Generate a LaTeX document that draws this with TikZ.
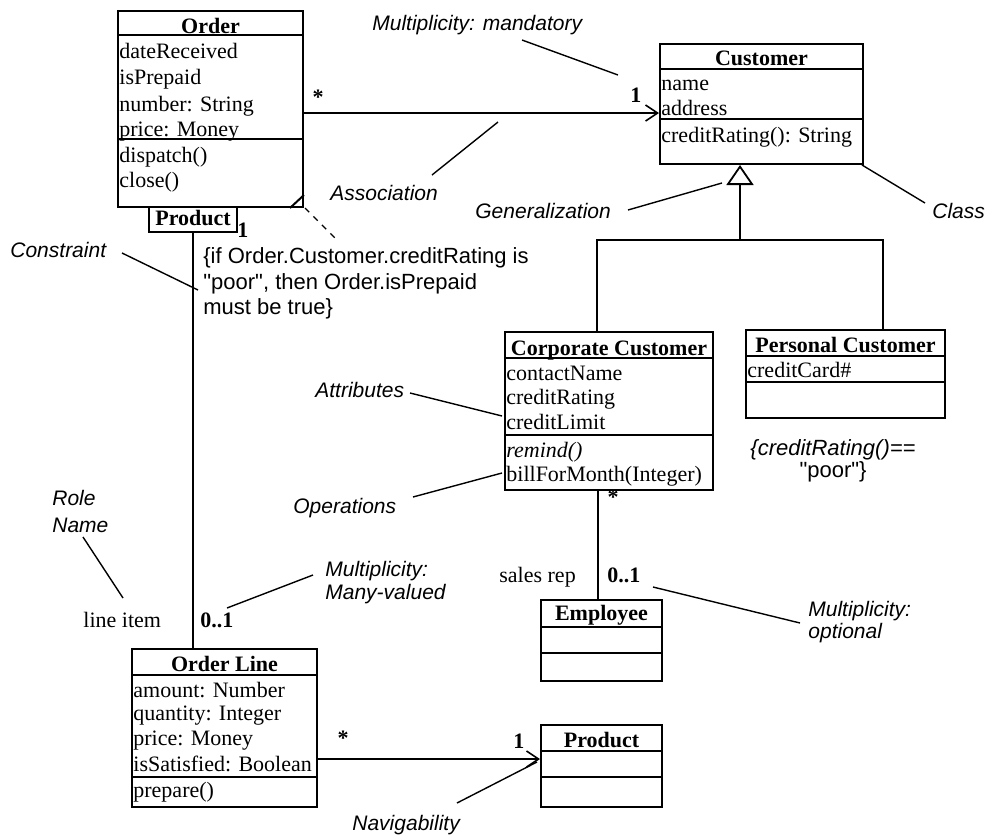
\documentclass[tikz,border=0pt]{standalone}
\usepackage{fontspec}
\setmainfont{Liberation Serif}
\setsansfont{Liberation Sans}
\usetikzlibrary{arrows.meta}

\begin{document}
\begin{tikzpicture}[x = 0.5pt, y = -0.5pt,
  classbox/.style = {draw, line width = 1pt, anchor = north west, inner sep = 0pt},
  sep/.style = {line width = 1pt},
  title/.style = {anchor = base, inner sep = 0pt, font = \fontsize{11}{13}\selectfont\bfseries},
  member/.style = {anchor = base west, inner sep = 0pt, font = \fontsize{11}{13}\selectfont},
  mult/.style = {anchor = base west, inner sep = 0pt, font = \fontsize{11}{13}\selectfont\bfseries},
  role/.style = {anchor = base west, inner sep = 0pt, font = \fontsize{11}{13}\selectfont},
  constr/.style = {anchor = base west, inner sep = 0pt, font = \sffamily\fontsize{11}{13}\selectfont},
  note/.style = {anchor = base west, inner sep = 0pt, font = \sffamily\itshape\fontsize{10.5}{12}\selectfont},
  lead/.style = {line width = 0.7pt},
  assoc/.style = {line width = 0.8pt, -{Straight Barb[length = 6pt, width = 8pt]}},
  gen/.style = {line width = 0.9pt, -{Triangle[open, length = 10pt, width = 13.5pt]}}]
\useasboundingbox (0,0) rectangle (992,836);

% class boxes
\node[classbox, minimum width = 92.5pt, minimum height = 98pt] (order) at (117,10) {};
\node[classbox, minimum width = 44pt, minimum height = 12.5pt] (qual) at (148,206) {};
\node[classbox, minimum width = 101.5pt, minimum height = 60pt] (customer) at (659,43) {};
\node[classbox, minimum width = 104pt, minimum height = 79pt] (corporate) at (504,331) {};
\node[classbox, minimum width = 99.5pt, minimum height = 44pt] (personal) at (745,329) {};
\node[classbox, minimum width = 60.5pt, minimum height = 40.5pt] (employee) at (540,599) {};
\node[classbox, minimum width = 60.5pt, minimum height = 41pt] (product) at (540,724) {};
\node[classbox, minimum width = 92.5pt, minimum height = 79pt] (orderline) at (131,648) {};

\foreach \cls/\y in {order/35, order/139, customer/69, customer/119, corporate/358, corporate/435,
    personal/356, personal/382, employee/627, employee/653, product/751, product/777,
    orderline/675, orderline/777}
  \draw[sep] (\cls.west |- 0,\y) -- (\cls.east |- 0,\y);
\draw[sep] ([xshift = -7pt]order.south east) -- ([yshift = 6.5pt]order.south east);

\node[title] (ordert) at (order.north |- 0,33) {Order};
\node[title] (qualt) at (qual.north |- 0,225) {Product};
\node[title] (customert) at (customer.north |- 0,65) {Customer};
\node[title] (corporatet) at (corporate.north |- 0,355) {Corporate Customer};
\node[title] (personalt) at (personal.north |- 0,352) {Personal Customer};
\node[title] (employeet) at (employee.north |- 0,620) {Employee};
\node[title] (productt) at (product.north |- 0,747) {Product};
\node[title] (orderlinet) at (orderline.north |- 0,671) {Order Line};

\node[member] (o1) at (119,58) {dateReceived};
\node[member] (o2) at (119,84) {isPrepaid};
\node[member] (o3) at (119,111) {number: String};
\node[member] (o4) at (119,136) {price: Money};
\node[member] (o5) at (119,162) {dispatch()};
\node[member] (o6) at (119,187) {close()};
\node[member] (c1) at (661,90) {name};
\node[member] (c2) at (661,115) {address};
\node[member] (c3) at (661,142) {creditRating(): String};
\node[member] (cc1) at (506,380) {contactName};
\node[member] (cc2) at (506,404) {creditRating};
\node[member] (cc3) at (506,429) {creditLimit};
\node[member] (cc4) at (506,457) {\textit{remind()}};
\node[member] (cc5) at (506,481) {billForMonth(Integer)};
\node[member] (pc1) at (747,377) {creditCard\#};
\node[member] (ol1) at (133,697) {amount: Number};
\node[member] (ol2) at (133,720) {quantity: Integer};
\node[member] (ol3) at (133,745) {price: Money};
\node[member] (ol4) at (133,771) {isSatisfied: Boolean};
\node[member] (ol5) at (133,797) {prepare()};

% associations
\draw[assoc] (order.east |- 0,113) -- (customer.west |- 0,113);
\draw[assoc] (orderline.east |- 0,759) -- (product.west |- 0,759);
\draw[sep] (qual.south) -- (orderline.north -| qual.south);
\draw[sep] (corporate.south -| 598,0) -- (employee.north -| 598,0);
\coordinate (genjoin) at (740,240);
\draw[gen] (genjoin) -- (customer.south -| genjoin);
\draw[sep] (corporate.north -| 597,0) |- (genjoin) -| (personal.north -| 883,0);

\node[mult, anchor = center] (m1) at (318,97) {*};
\node[mult] (m2) at (630,102) {1};
\node[mult] (m3) at (237,237) {1};
\node[mult, anchor = center] (m4) at (613,497) {*};
\node[mult] (m5) at (607,582) {0..1};
\node[mult] (m6) at (200,627) {0..1};
\node[mult, anchor = center] (m7) at (343,738) {*};
\node[mult] (m8) at (513,748) {1};
\node[role] (salesrep) at (499,582) {sales rep};
\node[role] (lineitem) at (83,627) {line item};

% constraints
\node[constr] (cons1) at (203,263) {\{if Order.Customer.creditRating is};
\node[constr] (cons2) at (203,289) {\textquotedbl poor\textquotedbl, then Order.isPrepaid};
\node[constr] (cons3) at (203,314) {must be true\}};
\node[constr, anchor = base] (poor1) at (833,455) {\textit{\{creditRating()==}};
\node[constr, anchor = base] (poor2) at (833,477) {\textquotedbl poor\textquotedbl\}};
\coordinate (dash1) at (305,208);
\coordinate (dash2) at (335,238);
\draw[lead, dash pattern = on 3pt off 3pt] (dash1) -- (dash2);

% annotations
\node[note] (nmand) at (372,30) {Multiplicity: mandatory};
\node[note] (nassoc) at (330,200) {Association};
\node[note] (ngen) at (475,218) {Generalization};
\node[note] (nclass) at (932,218) {Class};
\node[note] (ncons) at (10,257) {Constraint};
\node[note] (nattr) at (315,397) {Attributes};
\node[note] (nops) at (293,513) {Operations};
\node[note] (nrole) at (52,505) {Role};
\node[note] (nname) at (52,532) {Name};
\node[note] (nmany1) at (325,576) {Multiplicity:};
\node[note] (nmany2) at (325,599) {Many-valued};
\node[note] (nopt1) at (808,616) {Multiplicity:};
\node[note] (nopt2) at (808,638) {optional};
\node[note] (nnav) at (352,830) {Navigability};

\coordinate (lmand) at (522,40);   \coordinate (tmand) at (618,75);
\coordinate (lassoc) at (432,175); \coordinate (tassoc) at (498,122);
\coordinate (lgen) at (628,210);   \coordinate (tgen) at (722,183);
\coordinate (lclass) at (925,203); \coordinate (tclass) at (862,165);
\coordinate (lcons) at (122,253);  \coordinate (tcons) at (198,290);
\coordinate (lattr) at (410,393);  \coordinate (tattr) at (502,416);
\coordinate (lops) at (413,497);   \coordinate (tops) at (502,473);
\coordinate (lrole) at (83,537);   \coordinate (trole) at (123,598);
\coordinate (lmany) at (313,575);  \coordinate (tmany) at (227,608);
\coordinate (lopt) at (800,623);   \coordinate (topt) at (653,587);
\coordinate (lnav) at (457,803);   \coordinate (tnav) at (537,762);
\foreach \l in {mand, assoc, gen, class, cons, attr, ops, role, many, opt, nav}
  \draw[lead] (l\l) -- (t\l);
\end{tikzpicture}
\end{document}
